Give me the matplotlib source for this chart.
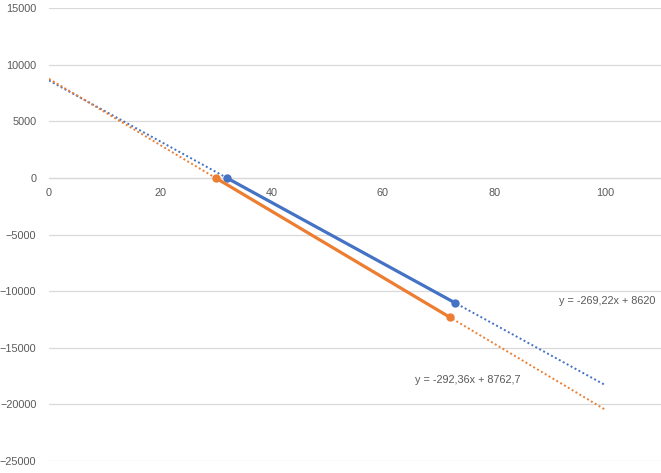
import numpy as np
import matplotlib.pyplot as plt

# measured series (two points each)
blue_x = [32.0, 73.0]
blue_y = [0.0, -11033.0]
orange_x = [30.0, 72.0]
orange_y = [0.0, -12287.0]

# linear trendlines as reported on the chart
blue_slope, blue_icept = -269.22, 8620.0
orange_slope, orange_icept = -292.36, 8762.7
trend_x = [0, 100]

yticks = [15000, 10000, 5000, 0, -5000, -10000, -15000, -20000, -25000]
xticks = [0, 20, 40, 60, 80, 100]

BLUE = '#4472C4'
ORANGE = '#ED7D31'
GREY = '#595959'

plt.rcParams['font.family'] = ['Liberation Sans', 'DejaVu Sans']

fig = plt.figure(figsize=(6.61, 4.73), dpi=100)
ax = fig.add_axes([0.0741, 0.0254, 0.9259, 0.9571])


def fmt(v):
    s = f"{v:g}"
    return s.replace('.', ',')


for slope, icept, col in [(blue_slope, blue_icept, BLUE),
                          (orange_slope, orange_icept, ORANGE)]:
    tx = np.array(trend_x, dtype=float)
    ax.plot(tx, slope * tx + icept, color=col, lw=1.4,
            linestyle=(0, (1, 1.3)), zorder=2)

ax.plot(blue_x, blue_y, color=BLUE, lw=2.3, marker='o', ms=5, zorder=3)
ax.plot(orange_x, orange_y, color=ORANGE, lw=2.3, marker='o', ms=5, zorder=3)

ax.text(91.6, -10835, f"y = {fmt(blue_slope)}x + {fmt(blue_icept)}",
        fontsize=7.8, color=GREY, va='center', ha='left')
ax.text(65.7, -17837, f"y = {fmt(orange_slope)}x + {fmt(orange_icept)}",
        fontsize=7.8, color=GREY, va='center', ha='left')

ax.set_xlim(0, 110)
ax.set_ylim(-25000, 15000)
ax.set_xticks(xticks)
ax.set_yticks(yticks)
ax.grid(axis='y', color='#D9D9D9', lw=0.9)
ax.set_axisbelow(True)

for s in ['top', 'right', 'left']:
    ax.spines[s].set_visible(False)
ax.spines['bottom'].set_position(('data', 0))
ax.spines['bottom'].set_color('#D9D9D9')
ax.spines['bottom'].set_linewidth(0.9)

ax.tick_params(axis='both', length=0, labelsize=7.8, labelcolor=GREY)
ax.tick_params(axis='y', pad=9)
ax.tick_params(axis='x', pad=7.5)

fig.savefig('out.png', dpi=100)
